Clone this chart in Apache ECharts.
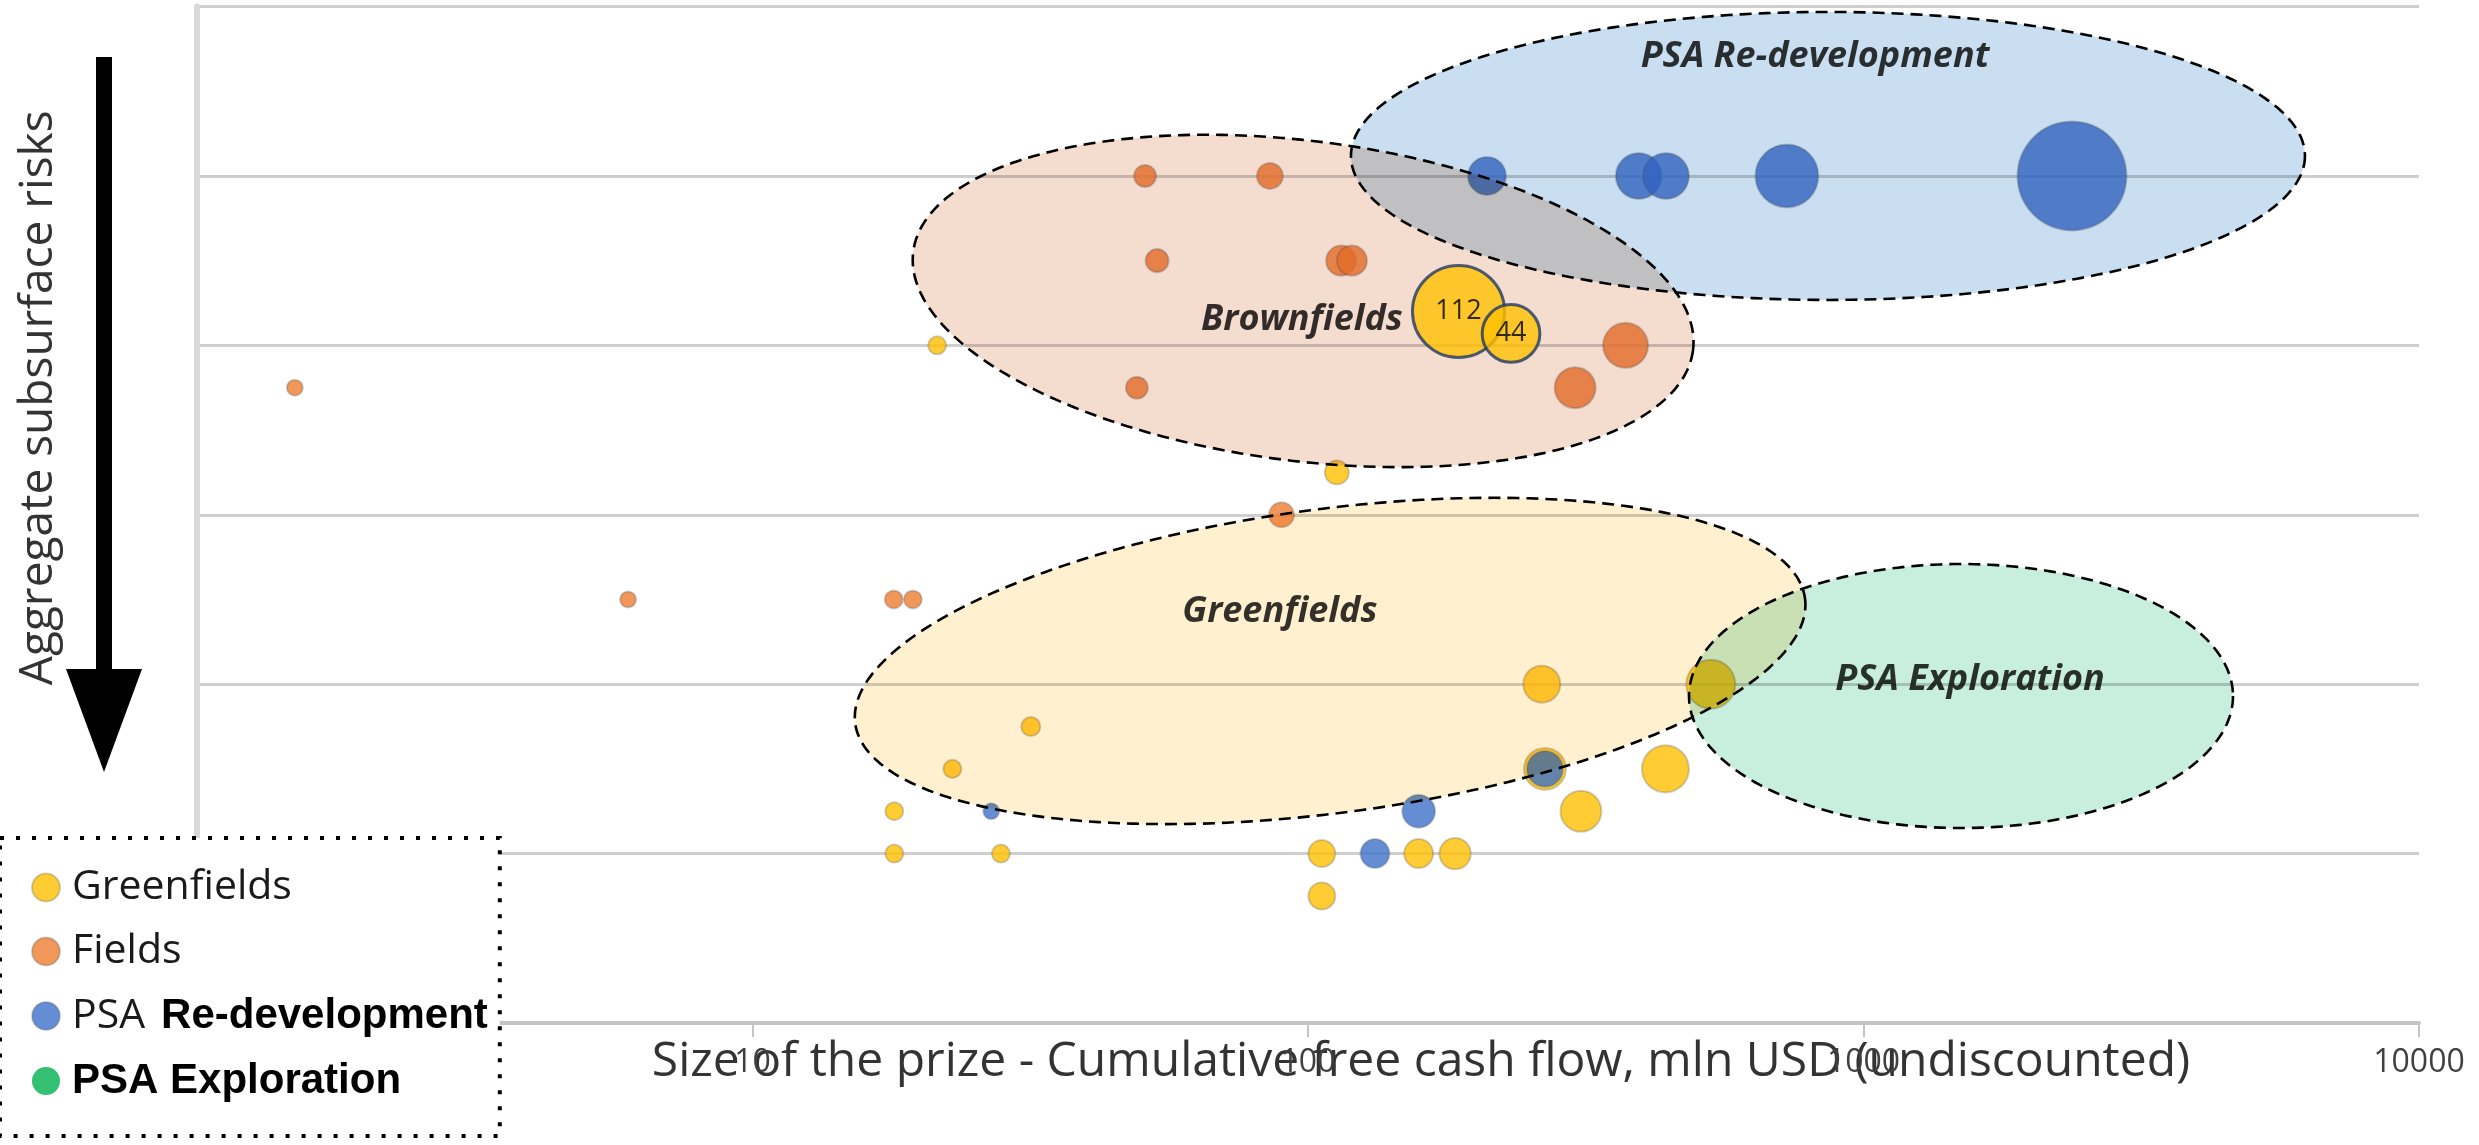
<!DOCTYPE html>
<html><head><meta charset="utf-8">
<script src="https://cdn.jsdelivr.net/npm/echarts@6/dist/echarts.min.js"></script>
<style>html,body{margin:0;padding:0;background:#fff}#c{width:2479px;height:1145px}</style>
</head><body><div id="c"></div>
<script>
// ---- data ----
const xTickValues = [1, 10, 100, 1000, 10000];
const yLevels = [0, 1, 2, 3, 4, 5, 6];
const seriesNames = ['Greenfields', 'Fields', 'PSA Re-development', 'PSA Exploration'];
// [cumulative FCF (mln USD), risk level, bubble size]
const greenfields = [
  [21.5, 4, 4.3], [112.7, 3.25, 7.6], [263.6, 2, 18.1], [531, 2, 31.7],
  [31.7, 1.75, 4.8], [22.9, 1.5, 4.3], [18.0, 1.25, 4.3], [18.0, 1, 4.3],
  [28.0, 1, 4.3], [105.9, 1, 9.6], [105.9, 0.75, 9.6], [158.2, 1, 11.1],
  [184, 1, 13], [267, 1.5, 23.3], [310, 1.25, 22.2], [440, 1.5, 29.2]
];
const fields = [
  [50.9, 5, 6.4], [85.4, 5, 8.9], [53.5, 4.5, 7.0], [114.7, 4.5, 11.9],
  [120, 4.5, 11.9], [373, 4, 26.8], [302.6, 3.75, 22.2], [49.2, 3.75, 6.4],
  [89.6, 3, 8.3], [1.5, 3.75, 3.4], [5.97, 2.5, 3.4], [17.96, 2.5, 4.3], [19.44, 2.5, 4.3]
];
const psaRedevelopment = [
  [210, 5, 19.1], [394, 5, 28], [441, 5, 28], [728, 5, 52.4], [2373, 5, 157],
  [26.9, 1.25, 3.4], [158.2, 1.25, 14.4], [132, 1, 11.1], [267, 1.5, 17.1]
];
const psaExploration = [];
const callouts = [[186.6, 4.2, 112], [232, 4.07, 44]];
const regionNames = ['PSA Re-development', 'Brownfields', 'Greenfields', 'PSA Exploration'];
const regionCenters = [[863, 5.118], [98, 4.262], [109.6, 2.137], [1498, 1.93]];
const regionLabelPos = [[818, 5.702], [97.5, 4.15], [89, 2.426], [1555, 2.025]];

// ---- styles ----
const K = 8.7;
const regionGeom = [
  {rx: 477, ry: 144, rot: 0, fill: '#c9dff1'},
  {rx: 393, ry: 160, rot: 7.2, fill: '#f4dccf'},
  {rx: 479, ry: 152, rot: -7.5, fill: '#fff0cf'},
  {rx: 272, ry: 132, rot: 0, fill: '#c8eedd'}
];
const colors = {'Greenfields': '#FFC000', 'Fields': '#ED7D31', 'PSA Re-development': '#3d71c9', 'PSA Exploration': '#00B050'};
const pointBorder = {borderColor: 'rgba(90,90,90,0.35)', borderWidth: 2};

const chart = echarts.init(document.getElementById('c'), null, {renderer: 'canvas'});

function bubble(name, data) {
  return {
    name: name, type: 'scatter', data: data, z: 2,
    symbolSize: v => K * Math.sqrt(v[2]),
    itemStyle: Object.assign({color: colors[name]}, pointBorder),
    emphasis: {disabled: true}
  };
}

const option = {
  backgroundColor: '#fff',
  animation: false,
  grid: {left: 197, right: 60, top: 6.5, bottom: 122},
  xAxis: {
    type: 'log', logBase: 10, min: xTickValues[0], max: xTickValues[xTickValues.length - 1],
    name: 'Size of the prize - Cumulative free cash flow, mln USD (undiscounted)',
    nameLocation: 'middle', nameGap: 15, nameMoveOverlap: false,
    nameTextStyle: {fontFamily: 'Open Sans', fontSize: 48, color: '#333', padding: [0, 0, 0, 226]},
    axisLine: {show: true, lineStyle: {color: '#c4c4c4', width: 4}},
    axisTick: {show: true, length: 14, lineStyle: {color: '#c4c4c4', width: 2}},
    axisLabel: {margin: 24, fontFamily: 'Open Sans', fontSize: 32, color: '#404040', formatter: v => String(v)},
    splitLine: {show: false}
  },
  yAxis: {
    type: 'value', min: yLevels[0], max: yLevels[yLevels.length - 1], interval: 1,
    name: 'Aggregate subsurface risks', nameLocation: 'middle', nameRotate: 90, nameGap: 135,
    nameMoveOverlap: false,
    nameTextStyle: {fontFamily: 'Open Sans', fontSize: 46, color: '#333', padding: [0, 0, 0, 234]},
    axisLine: {show: true, lineStyle: {color: '#d9d9d9', width: 6}},
    axisTick: {show: false},
    axisLabel: {show: false},
    splitLine: {show: true, lineStyle: {color: '#cfcfcf', width: 3}}
  },
  legend: {
    data: seriesNames, orient: 'vertical', left: 0, top: 838,
    padding: [29, 12, 34, 31], itemGap: 23, itemWidth: 28, itemHeight: 28, icon: 'circle',
    backgroundColor: '#fff', borderColor: '#000', borderWidth: 4, borderType: [4, 12],
    selectedMode: false, z: 20,
    formatter: function (name) {
      if (name === 'PSA Re-development') return '{r|PSA}{b2|Re-development}';
      if (name === 'PSA Exploration') return '{b|PSA Exploration}';
      return '{r|' + name + '}';
    },
    textStyle: {
      rich: {
        r: {fontFamily: 'Open Sans', fontSize: 41, color: '#1a1a1a', lineHeight: 44, padding: [0, 0, 0, 7]},
        b: {fontFamily: 'Liberation Sans', fontWeight: 'bold', fontSize: 42, color: '#000', lineHeight: 44, padding: [0, 0, 0, 7]},
        b2: {fontFamily: 'Liberation Sans', fontWeight: 'bold', fontSize: 42, color: '#000', lineHeight: 44, padding: [0, 0, 0, 16]}
      }
    }
  },
  graphic: [{
    type: 'polygon', z: 10,
    shape: {points: [[96, 57], [112, 57], [112, 669], [142, 669], [104, 772], [66, 669], [96, 669]]},
    style: {fill: '#000'}
  }],
  series: [
    bubble('Greenfields', greenfields),
    bubble('Fields', fields),
    bubble('PSA Re-development', psaRedevelopment),
    {name: 'PSA Exploration', type: 'scatter', data: psaExploration, itemStyle: {color: colors['PSA Exploration']}},
    {
      name: 'regions', type: 'custom', z: 3, silent: true, blendMode: 'multiply',
      data: regionCenters.map((c, i) => [c[0], c[1], i]),
      renderItem: function (params, api) {
        const i = params.dataIndex;
        const c = api.coord([api.value(0), api.value(1)]);
        const g = regionGeom[i];
        const th = g.rot * Math.PI / 180;
        const pts = [];
        for (let k = 0; k < 240; k++) {
          const t = k / 240 * 2 * Math.PI;
          const ex = g.rx * Math.cos(t), ey = g.ry * Math.sin(t);
          pts.push([c[0] + ex * Math.cos(th) - ey * Math.sin(th), c[1] + ex * Math.sin(th) + ey * Math.cos(th)]);
        }
        return {
          type: 'polygon', shape: {points: pts},
          style: {fill: g.fill, stroke: '#000', lineWidth: 2.6, lineDash: [12, 7]}
        };
      }
    },
    {
      name: 'callouts', type: 'scatter', z: 5, data: callouts,
      symbolSize: v => K * Math.sqrt(v[2]),
      itemStyle: {color: '#FFC000', borderColor: '#1f3864', borderWidth: 3},
      label: {show: true, position: 'inside', formatter: p => String(p.value[2]),
        fontFamily: 'Open Sans', fontSize: 27, color: '#000'},
      emphasis: {disabled: true}
    },
    {
      name: 'regionLabels', type: 'scatter', z: 6, symbolSize: 0, silent: true,
      data: regionLabelPos.map((p, i) => [p[0], p[1], regionNames[i]]),
      label: {show: true, position: 'inside', formatter: p => p.value[2],
        fontFamily: 'Open Sans', fontWeight: 'bold', fontStyle: 'italic', fontSize: 36, color: '#000'}
    }
  ]
};
chart.setOption(option);
</script>
</body></html>
